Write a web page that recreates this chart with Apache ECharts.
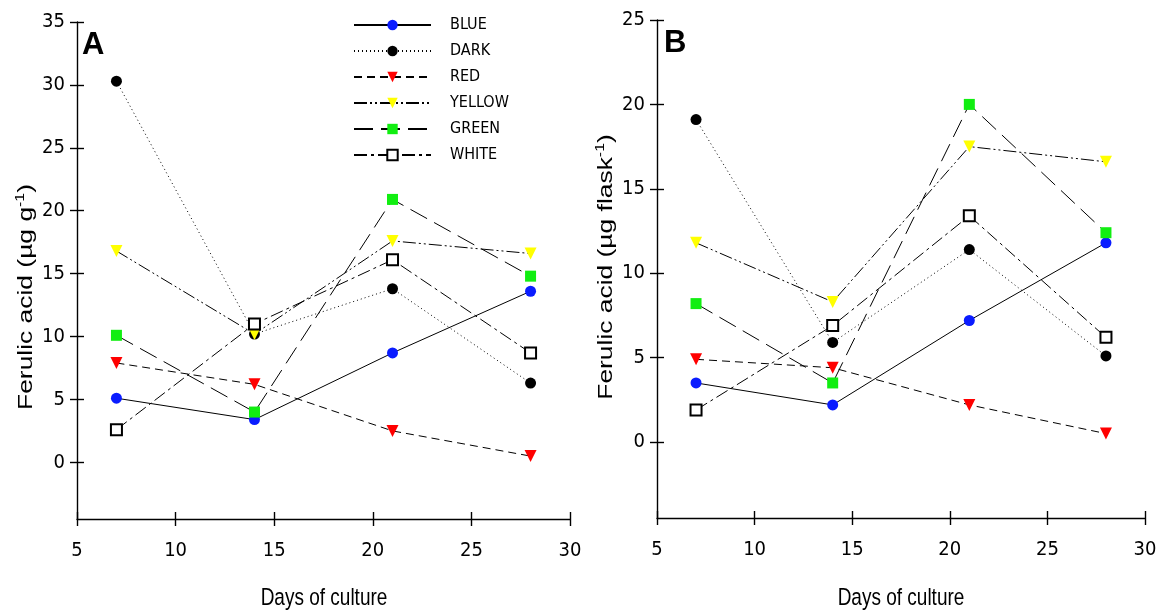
<!DOCTYPE html>
<html><head><meta charset="utf-8">
<script src="https://cdn.jsdelivr.net/npm/echarts@6/dist/echarts.min.js"></script>
<style>html,body{margin:0;padding:0;background:#fff}#c{width:1165px;height:613px}</style>
</head><body><div id="c"></div>
<script>
const days = [7, 14, 21, 28];
const names = ['BLUE', 'DARK', 'RED', 'YELLOW', 'GREEN', 'WHITE'];
const xTicks = [5, 10, 15, 20, 25, 30];
const yTicksA = [0, 5, 10, 15, 20, 25, 30, 35];
const yTicksB = [0, 5, 10, 15, 20, 25];
// Panel A: Ferulic acid (ug g-1)
const blueA = [5.1, 3.4, 8.7, 13.6];
const darkA = [30.3, 10.2, 13.8, 6.3];
const redA = [7.9, 6.2, 2.5, 0.5];
const yellowA = [16.8, 10.2, 17.6, 16.6];
const greenA = [10.1, 4.0, 20.9, 14.8];
const whiteA = [2.6, 11.0, 16.1, 8.7];
// Panel B: Ferulic acid (ug flask-1)
const blueB = [3.5, 2.2, 7.2, 11.8];
const darkB = [19.1, 5.9, 11.4, 5.1];
const redB = [4.9, 4.4, 2.2, 0.5];
const yellowB = [11.8, 8.3, 17.5, 16.6];
const greenB = [8.2, 3.5, 20.0, 12.4];
const whiteB = [1.9, 6.9, 13.4, 6.2];

const FONT = "'DejaVu Sans Condensed','Liberation Sans Narrow','Liberation Sans',Arial,sans-serif";
const styles = {
  BLUE:   {symbol: 'circle', color: '#0a1cff', dash: 'solid', size: 11, rot: 0},
  DARK:   {symbol: 'circle', color: '#000000', dash: [1, 3], size: 11, rot: 0},
  RED:    {symbol: 'triangle', color: '#ff0000', dash: [8, 5], size: 12, rot: 180},
  YELLOW: {symbol: 'triangle', color: '#ffff00', dash: [13, 3, 2, 3, 2, 3], size: 12, rot: 180},
  GREEN:  {symbol: 'rect', color: '#11ee11', dash: [19, 8], size: 11, rot: 0},
  WHITE:  {symbol: 'emptyRect', color: '#000000', dash: [13, 4, 3, 4], size: 11, rot: 0}
};
const dataA = [blueA, darkA, redA, yellowA, greenA, whiteA];
const dataB = [blueB, darkB, redB, yellowB, greenB, whiteB];

function mk(name, vals, idx) {
  const s = styles[name];
  return {
    name: name, type: 'line', xAxisIndex: idx, yAxisIndex: idx,
    data: days.map((d, i) => [d, vals[i]]),
    symbol: s.symbol, symbolSize: s.size, symbolRotate: s.rot,
    showAllSymbol: true,
    itemStyle: {color: s.color, borderColor: '#000', borderWidth: s.symbol === 'emptyRect' ? 1.2 : 0},
    lineStyle: {color: '#000', width: 1, type: s.dash},
    emphasis: {disabled: true}, animation: false, z: 3
  };
}
const series = [];
names.forEach((n, i) => series.push(mk(n, dataA[i], 0)));
names.forEach((n, i) => series.push(mk(n, dataB[i], 1)));

const AX = {color: '#000', width: 1.4};
function xAx(idx, inner) {
  return {
    type: 'value', gridIndex: idx, position: 'bottom', offset: 0, min: 5, max: 30, interval: 5,
    axisLine: {show: !inner, onZero: false, lineStyle: AX},
    axisTick: {show: true, inside: inner, length: 7, customValues: xTicks, lineStyle: AX},
    axisLabel: {show: !inner, color: '#000', fontFamily: FONT, fontSize: 20, margin: 22, customValues: xTicks},
    splitLine: {show: false}
  };
}
function yAx(idx, ticks, inner) {
  return {
    type: 'value', gridIndex: idx, position: 'left', offset: 0, min: -4.5, max: ticks[ticks.length - 1],
    axisLine: {show: !inner, onZero: false, lineStyle: AX},
    axisTick: {show: true, inside: inner, length: 7, customValues: ticks, lineStyle: AX},
    axisLabel: {show: !inner, color: '#000', fontFamily: FONT, fontSize: 20, margin: 12, customValues: ticks},
    splitLine: {show: false}
  };
}

const chart = echarts.init(document.getElementById('c'), null, {renderer: 'canvas'});
chart.setOption({
  animation: false,
  backgroundColor: '#fff',
  grid: [
    {left: 77, right: 595, top: 22, bottom: 94},
    {left: 657, right: 20, top: 20, bottom: 95}
  ],
  xAxis: [xAx(0, false), xAx(1, false), xAx(0, true), xAx(1, true)],
  yAxis: [yAx(0, yTicksA, false), yAx(1, yTicksB, false), yAx(0, yTicksA, true), yAx(1, yTicksB, true)],
  legend: {
    data: names, orient: 'vertical', left: 353, top: 17, padding: 0,
    itemWidth: 77, itemHeight: 13, itemGap: 10,
    selectedMode: false,
    textStyle: {color: '#000', fontFamily: FONT, fontSize: 16, lineHeight: 13, padding: [0, 0, 0, 14]}
  },
  graphic: [
    {type: 'text', left: 82, top: 30, style: {text: 'A', font: "bold 31px 'Liberation Sans', Arial", fill: '#000'}},
    {type: 'text', left: 664, top: 28, style: {text: 'B', font: "bold 31px 'Liberation Sans', Arial", fill: '#000'}},
    {type: 'text', x: 324, y: 598, scaleY: 1.25,
     style: {text: 'Days of culture', font: "19px 'Liberation Sans', Arial", fill: '#000', align: 'center', verticalAlign: 'middle'}},
    {type: 'text', x: 901, y: 598, scaleY: 1.25,
     style: {text: 'Days of culture', font: "19px 'Liberation Sans', Arial", fill: '#000', align: 'center', verticalAlign: 'middle'}},
    {type: 'text', x: 26, y: 297, rotation: Math.PI / 2, scaleX: 1.32,
     style: {text: 'Ferulic acid (µg g{s|-1})', font: "20px 'Liberation Sans', Arial", fill: '#000', align: 'center', verticalAlign: 'middle',
             rich: {s: {fontSize: 12, fontFamily: 'Liberation Sans', verticalAlign: 'top', lineHeight: 22, padding: [0, 0, 10, 0]}}}},
    {type: 'text', x: 606, y: 267, rotation: Math.PI / 2, scaleX: 1.32,
     style: {text: 'Ferulic acid (µg flask{s|-1})', font: "20px 'Liberation Sans', Arial", fill: '#000', align: 'center', verticalAlign: 'middle',
             rich: {s: {fontSize: 12, fontFamily: 'Liberation Sans', verticalAlign: 'top', lineHeight: 22, padding: [0, 0, 10, 0]}}}}
  ],
  series: series
});
</script>
</body></html>
